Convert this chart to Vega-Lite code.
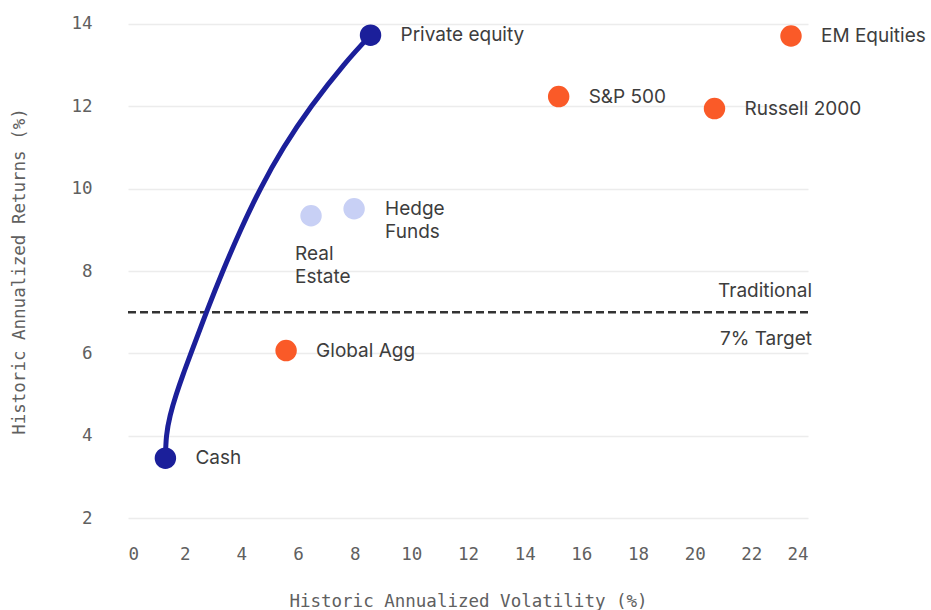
{
  "$schema": "https://vega.github.io/schema/vega-lite/v6.json",
  "autosize": {"type": "none"},
  "padding": {"left": 128, "top": 3, "right": 123, "bottom": 71},
  "width": 680,
  "height": 536,
  "background": "white",
  "config": {
    "view": {"stroke": null},
    "axis": {
      "domain": false,
      "ticks": false,
      "labelFont": "DejaVu Sans Mono",
      "labelFontSize": 17.5,
      "labelColor": "#606060",
      "titleFont": "DejaVu Sans Mono",
      "titleFontSize": 17.5,
      "titleFontWeight": "normal",
      "titleColor": "#606060",
      "gridColor": "#ececec",
      "gridWidth": 1.5
    },
    "text": {"font": "Inter", "fontSize": 19, "fill": "#3d3d3d"}
  },
  "datasets": {
    "assets": [
      {"name": "Cash", "label": "Cash", "vol": 1.32, "ret": 3.46, "group": "frontier"},
      {"name": "Private equity", "label": "Private equity", "vol": 8.56, "ret": 13.72, "group": "frontier"},
      {"name": "EM Equities", "label": "EM Equities", "vol": 23.4, "ret": 13.7, "group": "traditional"},
      {"name": "S&P 500", "label": "S&P 500", "vol": 15.2, "ret": 12.23, "group": "traditional"},
      {"name": "Russell 2000", "label": "Russell 2000", "vol": 20.7, "ret": 11.94, "group": "traditional"},
      {"name": "Global Agg", "label": "Global Agg", "vol": 5.58, "ret": 6.07, "group": "traditional"},
      {"name": "Hedge Funds", "label": "Hedge\nFunds", "vol": 7.98, "ret": 9.51, "group": "alternative"},
      {"name": "Real Estate", "label": "Real\nEstate", "vol": 6.46, "ret": 9.34, "group": "alternative"}
    ],
    "curve": [
      {"vol": 1.32, "ret": 3.46},
      {"vol": 1.36, "ret": 4.0},
      {"vol": 1.49, "ret": 4.5},
      {"vol": 1.7, "ret": 5.0},
      {"vol": 1.95, "ret": 5.5},
      {"vol": 2.22, "ret": 6.0},
      {"vol": 2.77, "ret": 7.0},
      {"vol": 3.35, "ret": 8.0},
      {"vol": 3.98, "ret": 9.0},
      {"vol": 4.68, "ret": 10.0},
      {"vol": 5.5, "ret": 11.0},
      {"vol": 6.48, "ret": 12.0},
      {"vol": 7.62, "ret": 13.0},
      {"vol": 8.56, "ret": 13.72}
    ]
  },
  "encoding": {
    "x": {
      "field": "vol", "type": "quantitative",
      "scale": {"domain": [0, 24], "nice": false, "zero": false},
      "axis": {"values": [0, 2, 4, 6, 8, 10, 12, 14, 16, 18, 20, 22, 24], "grid": false, "labelPadding": 6, "titlePadding": 30, "title": "Historic Annualized Volatility (%)"}
    },
    "y": {
      "field": "ret", "type": "quantitative",
      "scale": {"domain": [1.5, 14.5], "nice": false, "zero": false},
      "axis": {"values": [2, 4, 6, 8, 10, 12, 14], "grid": true, "labelPadding": 36, "titlePadding": 42, "title": "Historic Annualized Returns (%)"}
    }
  },
  "layer": [
    {
      "data": {"values": [{"ret": 7}]},
      "mark": {"type": "rule", "color": "#333333", "strokeWidth": 2.5, "strokeDash": [8, 4]},
      "encoding": {"x": null, "y": {"field": "ret", "type": "quantitative"}}
    },
    {
      "data": {"values": [{"vol": 24, "ret": 7, "label": "Traditional"}]},
      "mark": {"type": "text", "align": "right", "baseline": "middle", "dx": 4, "dy": -21},
      "encoding": {"text": {"field": "label"}}
    },
    {
      "data": {"values": [{"vol": 24, "ret": 7, "label": "7% Target"}]},
      "mark": {"type": "text", "align": "right", "baseline": "middle", "dx": 4, "dy": 27},
      "encoding": {"text": {"field": "label"}}
    },
    {
      "data": {"name": "curve"},
      "mark": {"type": "line", "color": "#1b1f9a", "strokeWidth": 5, "interpolate": "natural", "strokeCap": "round"},
      "encoding": {"order": {"field": "ret", "type": "quantitative"}}
    },
    {
      "data": {"name": "assets"},
      "mark": {"type": "circle", "size": 460, "opacity": 1},
      "encoding": {
        "color": {
          "field": "group", "type": "nominal", "legend": null,
          "scale": {"domain": ["frontier", "traditional", "alternative"], "range": ["#1b1f9a", "#fa5a28", "#c8d0f5"]}
        }
      }
    },
    {
      "data": {"name": "assets"},
      "transform": [{"filter": "datum.name !== 'Hedge Funds' && datum.name !== 'Real Estate'"}],
      "mark": {"type": "text", "align": "left", "baseline": "middle", "dx": 30},
      "encoding": {"text": {"field": "label"}}
    },
    {
      "data": {"name": "assets"},
      "transform": [{"filter": "datum.name === 'Hedge Funds'"}],
      "mark": {"type": "text", "align": "left", "baseline": "top", "dx": 31, "dy": -9, "lineBreak": "\n", "lineHeight": 23},
      "encoding": {"text": {"field": "label"}}
    },
    {
      "data": {"name": "assets"},
      "transform": [{"filter": "datum.name === 'Real Estate'"}],
      "mark": {"type": "text", "align": "left", "baseline": "top", "dx": -16, "dy": 29, "lineBreak": "\n", "lineHeight": 23},
      "encoding": {"text": {"field": "label"}}
    }
  ]
}
